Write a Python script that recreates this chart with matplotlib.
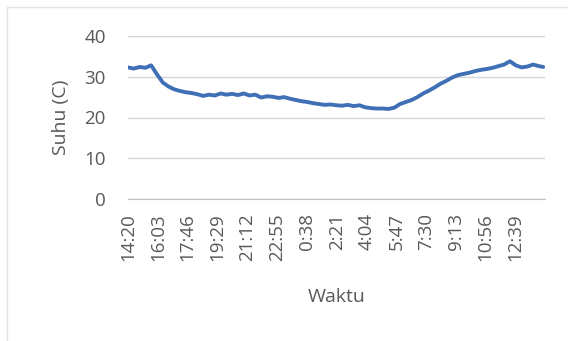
import matplotlib
matplotlib.use("Agg")
import matplotlib.pyplot as plt
from matplotlib.patches import Rectangle

# Temperature log, minutes after 14:20
minutes = [0, 20, 40, 60, 80, 100, 120, 140, 160, 180, 200, 220, 240, 260,
           280, 300, 320, 340, 360, 380, 400, 420, 440, 460, 480, 500, 520,
           540, 560, 580, 600, 620, 640, 660, 680, 700, 720, 740, 760, 780,
           800, 820, 840, 860, 880, 900, 920, 940, 960, 980, 1000, 1020, 1040,
           1060, 1080, 1100, 1120, 1140, 1160, 1180, 1200, 1220, 1240, 1260,
           1280, 1300, 1320, 1340, 1360, 1380, 1400, 1420, 1435]
suhu = [32.3, 32.0, 32.4, 32.2, 32.8, 30.6, 28.6, 27.6, 26.9, 26.5, 26.2,
        26.0, 25.7, 25.3, 25.6, 25.4, 25.9, 25.6, 25.8, 25.5, 25.9, 25.4,
        25.6, 24.9, 25.2, 25.1, 24.8, 25.0, 24.6, 24.3, 24.0, 23.8, 23.5,
        23.3, 23.1, 23.2, 23.0, 22.9, 23.1, 22.8, 23.0, 22.5, 22.3, 22.2,
        22.2, 22.1, 22.4, 23.3, 23.8, 24.3, 25.0, 25.9, 26.6, 27.4, 28.3,
        29.0, 29.8, 30.4, 30.7, 31.0, 31.4, 31.7, 31.9, 32.2, 32.6, 33.0,
        33.8, 32.8, 32.3, 32.5, 33.0, 32.6, 32.4]

# category labels shown every 103 samples
tick_minutes = [0, 103, 206, 309, 412, 515, 618, 721, 824, 927, 1030, 1133,
                1236, 1339]
tick_labels = ["14:20", "16:03", "17:46", "19:29", "21:12", "22:55", "0:38",
               "2:21", "4:04", "5:47", "7:30", "9:13", "10:56", "12:39"]
y_ticks = [0, 10, 20, 30, 40]

TEXT = "#595959"
GRID = "#D4D4D4"
LINE = "#3F70B5"

plt.rcParams["font.family"] = ["Open Sans", "DejaVu Sans"]

fig = plt.figure(figsize=(5.68, 3.41), dpi=100)
W, H = 568, 341
ax = fig.add_axes([128 / W, 1 - 199 / H, (545 - 128) / W, (199 - 36) / H])

ax.plot(minutes, suhu, color=LINE, lw=2.8, solid_capstyle="round")

ax.set_xlim(0, 1441)
ax.set_ylim(0, 40)
ax.set_yticks(y_ticks)
ax.set_xticks(tick_minutes)
ax.set_xticklabels(tick_labels, rotation=90)
ax.tick_params(axis="both", length=0, colors=TEXT, labelsize=13.5)
ax.tick_params(axis="x", pad=10)
ax.tick_params(axis="y", pad=16)
ax.grid(axis="y", color=GRID, lw=1)
ax.set_axisbelow(True)
for side in ("left", "right", "top"):
    ax.spines[side].set_visible(False)
ax.spines["bottom"].set_color("#BFBFBF")

ax.set_ylabel("Suhu (C)", color=TEXT, fontsize=14, labelpad=10)
ax.set_xlabel("Waktu", color=TEXT, fontsize=14, labelpad=20)

# chart area border
fig.patches.append(Rectangle((7 / W, -0.1), 1.0, 1 - 7 / H + 0.1,
                             transform=fig.transFigure, fill=False,
                             edgecolor="#E3E3E3", lw=1))

fig.savefig("out.png", dpi=100)
